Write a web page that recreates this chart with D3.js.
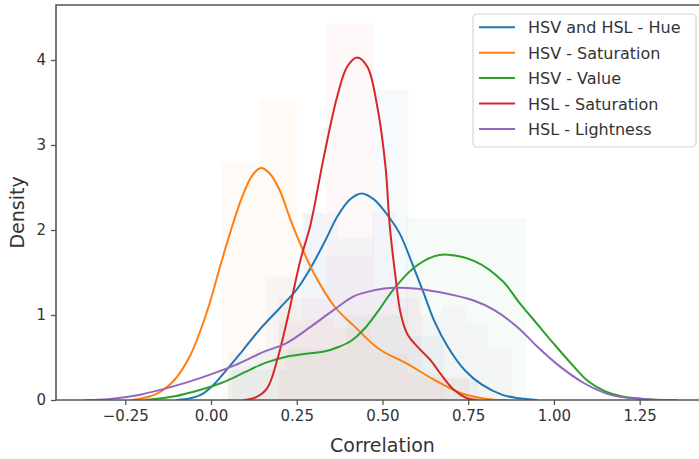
<!DOCTYPE html>
<html>
<head>
<meta charset="utf-8">
<script src="https://d3js.org/d3.v7.min.js"></script>
<style>
  html, body { margin: 0; padding: 0; background: #fff; }
  svg { display: block; font-family: "DejaVu Sans", sans-serif; }
</style>
</head>
<body>
<svg id="chart" width="699" height="459"></svg>
<script>
// Series names, in legend order
const seriesNames = ["HSV and HSL - Hue", "HSV - Saturation", "HSV - Value", "HSL - Saturation", "HSL - Lightness"];
const seriesColors = ["#1f77b4", "#ff7f0e", "#2ca02c", "#d62728", "#9467bd"];

// Kernel density estimates: [correlation, density]
const kdeHue = [
  [-0.10, 0.00], [-0.06, 0.02], [-0.03, 0.06], [0.00, 0.15], [0.03, 0.28], [0.09, 0.57],
  [0.14, 0.82], [0.20, 1.08], [0.25, 1.30], [0.29, 1.55], [0.33, 1.85], [0.37, 2.17],
  [0.405, 2.36], [0.44, 2.43], [0.475, 2.36], [0.51, 2.20], [0.55, 1.96], [0.59, 1.57],
  [0.62, 1.26], [0.65, 0.94], [0.69, 0.63], [0.74, 0.35], [0.79, 0.18], [0.85, 0.06],
  [0.90, 0.02], [0.95, 0.00]
];
const kdeSatV = [
  [-0.23, 0.00], [-0.16, 0.07], [-0.11, 0.22], [-0.06, 0.53], [-0.01, 1.06], [0.03, 1.62],
  [0.06, 2.02], [0.09, 2.38], [0.12, 2.64], [0.145, 2.73], [0.17, 2.67], [0.20, 2.47],
  [0.23, 2.14], [0.26, 1.84], [0.30, 1.49], [0.36, 1.10], [0.42, 0.86], [0.49, 0.60],
  [0.57, 0.43], [0.65, 0.24], [0.73, 0.08], [0.81, 0.01], [0.86, 0.00]
];
const kdeVal = [
  [-0.19, 0.00], [-0.11, 0.04], [-0.03, 0.12], [0.03, 0.20], [0.07, 0.27], [0.10, 0.33],
  [0.16, 0.44], [0.22, 0.51], [0.29, 0.55], [0.33, 0.57], [0.37, 0.62], [0.41, 0.70],
  [0.45, 0.85], [0.49, 1.06], [0.53, 1.29], [0.59, 1.55], [0.65, 1.69], [0.69, 1.71],
  [0.77, 1.63], [0.85, 1.40], [0.90, 1.14], [0.95, 0.90], [1.00, 0.66], [1.05, 0.43],
  [1.10, 0.22], [1.15, 0.10], [1.20, 0.04], [1.27, 0.01], [1.34, 0.00]
];
const kdeSatL = [
  [0.096, 0.00], [0.13, 0.03], [0.164, 0.14], [0.193, 0.47], [0.222, 0.94], [0.261, 1.65],
  [0.29, 2.06], [0.329, 2.86], [0.368, 3.57], [0.397, 3.92], [0.426, 4.03], [0.456, 3.92],
  [0.485, 3.45], [0.509, 2.74], [0.521, 2.06], [0.538, 1.45], [0.553, 1.02], [0.572, 0.78],
  [0.601, 0.63], [0.64, 0.47], [0.669, 0.31], [0.708, 0.12], [0.747, 0.02], [0.776, 0.00]
];
const kdeLight = [
  [-0.366, 0.00], [-0.30, 0.01], [-0.21, 0.06], [-0.11, 0.16], [-0.03, 0.26], [0.07, 0.41],
  [0.15, 0.56], [0.22, 0.67], [0.29, 0.86], [0.358, 1.06], [0.416, 1.22], [0.475, 1.29],
  [0.533, 1.32], [0.601, 1.31], [0.689, 1.25], [0.766, 1.17], [0.825, 1.06], [0.893, 0.86],
  [0.951, 0.63], [1.019, 0.39], [1.087, 0.20], [1.165, 0.06], [1.26, 0.01], [1.358, 0.00]
];

// Density histograms: [bin start, bin end, density]
const histHue = [
  [0.05, 0.16, 0.55], [0.16, 0.27, 1.45], [0.27, 0.37, 2.20], [0.37, 0.474, 1.90],
  [0.474, 0.576, 3.65], [0.576, 0.68, 0.75], [0.68, 0.78, 0.25]
];
const histSatV = [
  [0.033, 0.141, 2.81], [0.141, 0.249, 3.53], [0.249, 0.357, 0.95], [0.357, 0.465, 0.85],
  [0.465, 0.573, 0.55], [0.573, 0.681, 0.30]
];
const histVal = [
  [0.05, 0.22, 0.35], [0.22, 0.395, 0.60], [0.395, 0.567, 1.00], [0.567, 0.742, 2.14],
  [0.742, 0.918, 2.14]
];
const histSatL = [
  [0.198, 0.337, 1.20], [0.337, 0.475, 4.43], [0.475, 0.614, 1.30], [0.614, 0.752, 0.27]
];
const histLight = [
  [0.06, 0.13, 0.40], [0.13, 0.197, 0.60], [0.197, 0.265, 0.90], [0.265, 0.333, 2.21],
  [0.333, 0.401, 1.70], [0.401, 0.47, 1.70], [0.47, 0.538, 2.21], [0.538, 0.606, 1.20],
  [0.606, 0.674, 1.00], [0.674, 0.742, 1.10], [0.742, 0.81, 0.90], [0.81, 0.878, 0.60]
];

const xTicks = [-0.25, 0.00, 0.25, 0.50, 0.75, 1.00, 1.25];
const yTicks = [0, 1, 2, 3, 4];
const xLabel = "Correlation";
const yLabel = "Density";

const kdes = [kdeHue, kdeSatV, kdeVal, kdeSatL, kdeLight];
const hists = [histHue, histSatV, histVal, histSatL, histLight];

const svg = d3.select("#chart");
const plot = { left: 56, right: 705.5, top: 5, bottom: 400 };

const x = d3.scaleLinear().domain([-0.452, 1.442]).range([plot.left, plot.right]);
const y = d3.scaleLinear().domain([0, 4.647]).range([plot.bottom, plot.top]);

svg.append("defs").append("clipPath").attr("id", "plotClip")
  .append("rect")
  .attr("x", plot.left).attr("y", plot.top)
  .attr("width", plot.right - plot.left).attr("height", plot.bottom - plot.top);

const body = svg.append("g").attr("clip-path", "url(#plotClip)");

// faint histogram bars
hists.forEach((bins, i) => {
  body.append("g")
    .selectAll("rect")
    .data(bins)
    .join("rect")
    .attr("x", d => x(d[0]))
    .attr("y", d => y(d[2]))
    .attr("width", d => x(d[1]) - x(d[0]))
    .attr("height", d => y(0) - y(d[2]))
    .attr("fill", seriesColors[i])
    .attr("fill-opacity", 0.04);
});

// density curves
const line = d3.line()
  .x(d => x(d[0]))
  .y(d => y(Math.max(0, d[1])))
  .curve(d3.curveCatmullRom.alpha(0.5));

kdes.forEach((pts, i) => {
  body.append("path")
    .datum(pts)
    .attr("d", line)
    .attr("fill", "none")
    .attr("stroke", seriesColors[i])
    .attr("stroke-width", 2)
    .attr("stroke-linejoin", "round")
    .attr("stroke-linecap", "round");
});

// axes
const axisColor = "#555";
const textColor = "#333";

const xAxis = svg.append("g")
  .attr("transform", `translate(0,${plot.bottom})`)
  .call(d3.axisBottom(x).tickValues(xTicks).tickFormat(d3.format(".2f")).tickSizeOuter(0).tickSize(5).tickPadding(5));
const yAxis = svg.append("g")
  .attr("transform", `translate(${plot.left},0)`)
  .call(d3.axisLeft(y).tickValues(yTicks).tickFormat(d3.format("d")).tickSizeOuter(0).tickSize(5).tickPadding(5));

[xAxis, yAxis].forEach(g => {
  g.select(".domain").remove();
  g.selectAll(".tick line").attr("stroke", axisColor).attr("stroke-width", 1.3);
  g.selectAll(".tick text")
    .attr("fill", textColor)
    .style("font-size", "15px")
    .style("font-family", "DejaVu Sans, sans-serif");
});
xAxis.selectAll(".tick text").text(d => d < 0 ? "\u2212" + d3.format(".2f")(-d) : d3.format(".2f")(d));

// spines: left, bottom, top
svg.append("path")
  .attr("d", `M${plot.right},${plot.top}H${plot.left}V${plot.bottom}H${plot.right}`)
  .attr("fill", "none")
  .attr("stroke", axisColor)
  .attr("stroke-width", 1.6);

// axis titles
svg.append("text")
  .attr("x", (x(-0.25) + x(1.25)) / 2)
  .attr("y", 452)
  .attr("text-anchor", "middle")
  .attr("fill", textColor)
  .style("font-size", "19px")
  .text(xLabel);

svg.append("text")
  .attr("transform", `translate(24,${(plot.top + plot.bottom) / 2 + 10}) rotate(-90)`)
  .attr("text-anchor", "middle")
  .attr("fill", textColor)
  .style("font-size", "19px")
  .text(yLabel);

// legend
const legend = svg.append("g").attr("transform", "translate(473,14)");
legend.append("rect")
  .attr("width", 223).attr("height", 133)
  .attr("rx", 4).attr("ry", 4)
  .attr("fill", "#fff").attr("fill-opacity", 0.85)
  .attr("stroke", "#d6d6d6").attr("stroke-width", 1.2);

const rows = legend.selectAll("g.row")
  .data(seriesNames)
  .join("g")
  .attr("class", "row")
  .attr("transform", (d, i) => `translate(0,${13.3 + i * 25.4})`);

rows.append("line")
  .attr("x1", 6).attr("x2", 42)
  .attr("stroke", (d, i) => seriesColors[i])
  .attr("stroke-width", 2);

rows.append("text")
  .attr("x", 55).attr("y", 6)
  .attr("fill", textColor)
  .style("font-size", "16px")
  .text(d => d);
</script>
</body>
</html>
